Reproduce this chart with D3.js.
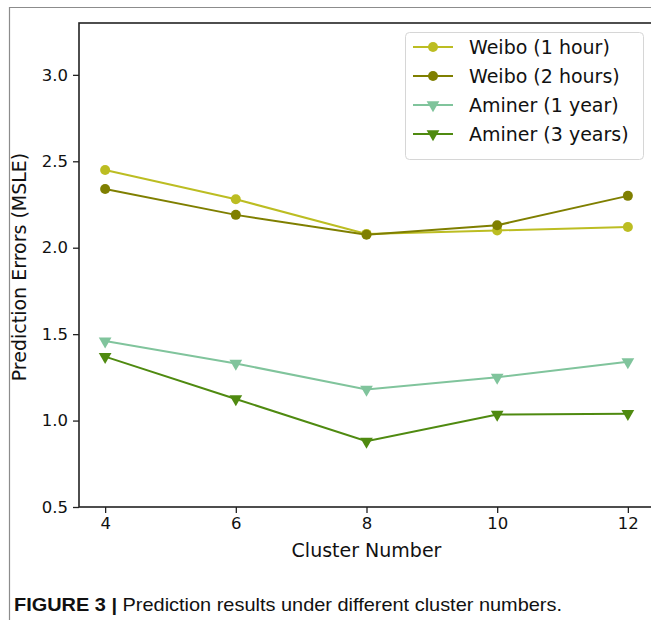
<!DOCTYPE html>
<html><head><meta charset="utf-8">
<script src="https://cdn.jsdelivr.net/npm/d3@7"></script>
<style>html,body{margin:0;padding:0;background:#fff;overflow:hidden}</style>
</head><body>
<script>
const clusters = [4, 6, 8, 10, 12];
const weibo1h = [2.45, 2.28, 2.08, 2.10, 2.12];
const weibo2h = [2.34, 2.19, 2.075, 2.13, 2.30];
const aminer1y = [1.46, 1.33, 1.18, 1.25, 1.34];
const aminer3y = [1.37, 1.125, 0.88, 1.035, 1.04];
const yTicks = [0.5, 1.0, 1.5, 2.0, 2.5, 3.0];
const seriesNames = ["Weibo (1 hour)", "Weibo (2 hours)", "Aminer (1 year)", "Aminer (3 years)"];
const seriesColors = ["#bcbd22", "#7f7f00", "#80c49c", "#4f8a10"];
const seriesMarkers = ["circle", "circle", "tri", "tri"];
const seriesData = [weibo1h, weibo2h, aminer1y, aminer3y];

const W = 651, H = 620;
const svg = d3.select("body").append("svg").attr("width", W).attr("height", H);

// outer figure frame
svg.append("path").attr("d", "M9.5,620 V7.5 H651").attr("fill", "none").attr("stroke", "#8c8c8c").attr("stroke-width", 1.2);

const L = 79, R = 654, T = 23, B = 507;
const x = d3.scaleLinear().domain([3.6, 12.4]).range([L, R]);
const y = d3.scaleLinear().domain([0.5, 3.3]).range([B, T]);

const font = "DejaVu Sans, sans-serif";

// spines
svg.append("rect").attr("x", L).attr("y", T).attr("width", R - L).attr("height", B - T)
  .attr("fill", "none").attr("stroke", "#222").attr("stroke-width", 1.6);

// axes
const xa = svg.append("g").attr("transform", `translate(0,${B})`)
  .call(d3.axisBottom(x).tickValues(clusters).tickFormat(d3.format("d")).tickSize(6).tickPadding(4));
const ya = svg.append("g").attr("transform", `translate(${L},0)`)
  .call(d3.axisLeft(y).tickValues(yTicks).tickFormat(d3.format(".1f")).tickSize(6).tickPadding(5));
[xa, ya].forEach(a => {
  a.select(".domain").remove();
  a.selectAll("line").attr("stroke", "#222").attr("stroke-width", 1.3);
  a.selectAll("text").attr("font-family", font).attr("font-size", 16.5).attr("fill", "#111");
});

svg.append("text").attr("x", (L + R) / 2).attr("y", 557).attr("text-anchor", "middle")
  .attr("font-family", font).attr("font-size", 19).attr("fill", "#111").text("Cluster Number");
svg.append("text").attr("transform", `translate(26,${(T + B) / 2 + 2}) rotate(-90)`).attr("text-anchor", "middle")
  .attr("font-family", font).attr("font-size", 19).attr("fill", "#111").text("Prediction Errors (MSLE)");

const tri = d3.symbol().type(d3.symbolTriangle).size(70);
function marker(g, type, color, cx, cy) {
  if (type === "circle") {
    g.append("circle").attr("cx", cx).attr("cy", cy).attr("r", 5).attr("fill", color);
  } else {
    g.append("path").attr("d", tri()).attr("transform", `translate(${cx},${cy}) rotate(180)`).attr("fill", color);
  }
}

const line = d3.line().x(d => x(d[0])).y(d => y(d[1]));
seriesData.forEach((vals, i) => {
  const pts = clusters.map((c, j) => [c, vals[j]]);
  const g = svg.append("g");
  g.append("path").attr("d", line(pts)).attr("fill", "none").attr("stroke", seriesColors[i]).attr("stroke-width", 2);
  pts.forEach(p => marker(g, seriesMarkers[i], seriesColors[i], x(p[0]), y(p[1])));
});

// legend
const lg = svg.append("g");
lg.append("rect").attr("x", 405.5).attr("y", 32.5).attr("width", 238).attr("height", 127).attr("rx", 4)
  .attr("fill", "#fff").attr("fill-opacity", 0.85).attr("stroke", "#d6d6d6");
seriesNames.forEach((n, i) => {
  const cy = 47 + i * 29;
  lg.append("line").attr("x1", 413).attr("x2", 453).attr("y1", cy).attr("y2", cy).attr("stroke", seriesColors[i]).attr("stroke-width", 2);
  marker(lg, seriesMarkers[i], seriesColors[i], 433, cy);
  lg.append("text").attr("x", 469).attr("y", cy + 7).attr("font-family", font).attr("font-size", 19).attr("fill", "#111").text(n);
});

// caption
const cap = svg.append("text").attr("x", 14).attr("y", 611).attr("font-family", "Liberation Sans, Arial, sans-serif")
  .attr("font-size", 18.5).attr("fill", "#111").attr("textLength", 548).attr("lengthAdjust", "spacingAndGlyphs");
cap.append("tspan").attr("font-weight", "bold").text("FIGURE 3 | ");
cap.append("tspan").text("Prediction results under different cluster numbers.");
</script>
</body></html>
